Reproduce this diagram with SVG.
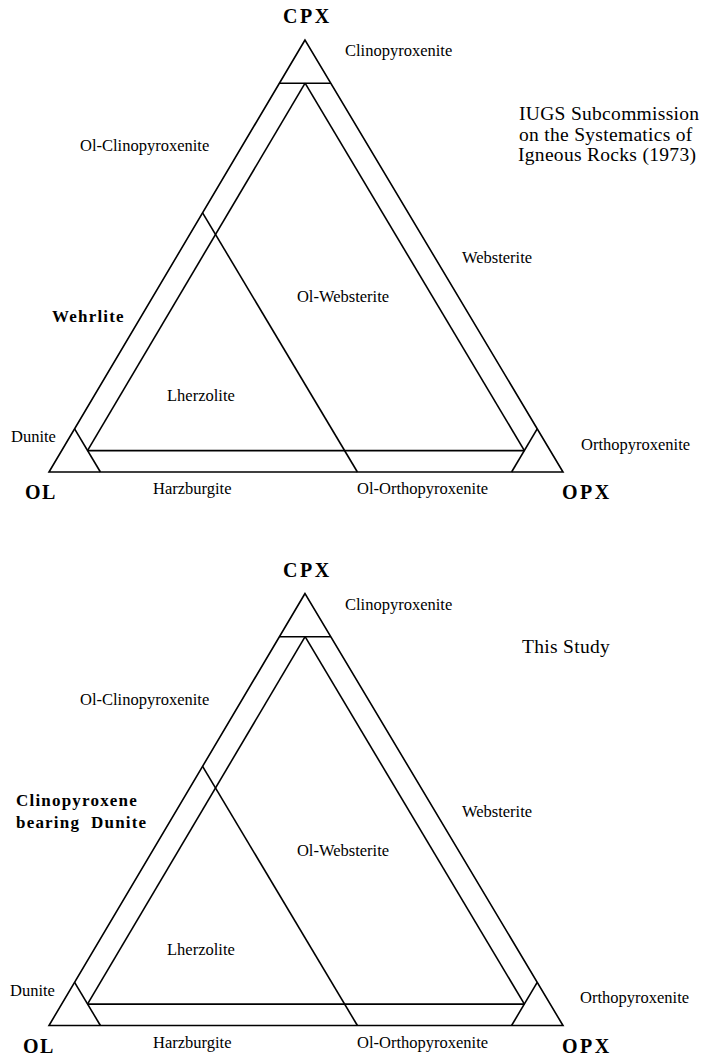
<svg xmlns="http://www.w3.org/2000/svg" xmlns:xlink="http://www.w3.org/1999/xlink" width="712" height="1058" viewBox="0 0 712 1058">
<style>
.ln{fill:none;stroke:#000;stroke-width:1.6;stroke-linejoin:miter}
.lb{font-family:"Liberation Serif","Times New Roman",serif;font-size:16.5px;fill:#000}
.ap{font-family:"Liberation Serif","Times New Roman",serif;font-size:20px;font-weight:bold;letter-spacing:2.5px;fill:#000}
.bl{font-family:"Liberation Serif","Times New Roman",serif;font-size:17px;font-weight:bold;letter-spacing:1.2px;fill:#000}
.tt{font-family:"Liberation Serif","Times New Roman",serif;font-size:19.5px;letter-spacing:0.3px;fill:#000}
</style>
<defs>
<g id="tri">
<polygon class="ln" points="305,40 49,472 563,472"/>
<line class="ln" x1="279.4" y1="83.2" x2="330.8" y2="83.2"/>
<line class="ln" x1="74.6" y1="428.8" x2="100.4" y2="472"/>
<line class="ln" x1="511.6" y1="472" x2="537.2" y2="428.8"/>
<line class="ln" x1="87.5" y1="450.6" x2="524.4" y2="450.6"/>
<line class="ln" x1="305.1" y1="83.2" x2="87.5" y2="450.6"/>
<line class="ln" x1="305.1" y1="83.2" x2="524.4" y2="450.6"/>
<line class="ln" x1="202.6" y1="212.8" x2="357.4" y2="472"/>
</g>
</defs>
<g id="diagram-iugs">
<g id="connectors-iugs"><use xlink:href="#tri"/></g>
<g id="apex-cpx"><text class="ap" x="283" y="23">CPX</text></g>
<g id="apex-ol"><text class="ap" x="25" y="499" style="letter-spacing:1.5px">OL</text></g>
<g id="apex-opx"><text class="ap" x="562" y="499">OPX</text></g>
<g id="lbl-clinopyroxenite"><text class="lb" x="345" y="56">Clinopyroxenite</text></g>
<g id="lbl-title"><text class="tt" x="519" y="120">IUGS Subcommission</text><text class="tt" x="519" y="141">on the Systematics of</text><text class="tt" x="518" y="161">Igneous Rocks (1973)</text></g>
<g id="lbl-olcpx"><text class="lb" x="80" y="151">Ol-Clinopyroxenite</text></g>
<g id="lbl-websterite"><text class="lb" x="497" y="263" text-anchor="middle">Websterite</text></g>
<g id="lbl-wehrlite"><text class="bl" x="52" y="322">Wehrlite</text></g>
<g id="lbl-olweb"><text class="lb" x="343" y="302" text-anchor="middle">Ol-Websterite</text></g>
<g id="lbl-lherzolite"><text class="lb" x="167" y="401">Lherzolite</text></g>
<g id="lbl-dunite"><text class="lb" x="11" y="442">Dunite</text></g>
<g id="lbl-opxite"><text class="lb" x="581" y="450">Orthopyroxenite</text></g>
<g id="lbl-harz"><text class="lb" x="153" y="494">Harzburgite</text></g>
<g id="lbl-olopx"><text class="lb" x="357" y="494">Ol-Orthopyroxenite</text></g>
</g>
<g id="diagram-this-study" transform="translate(0,553.5)">
<g id="connectors-study"><use xlink:href="#tri"/></g>
<g id="apex-cpx-2"><text class="ap" x="283" y="23">CPX</text></g>
<g id="apex-ol-2"><text class="ap" x="23" y="499" style="letter-spacing:1.5px">OL</text></g>
<g id="apex-opx-2"><text class="ap" x="562" y="499">OPX</text></g>
<g id="lbl-clinopyroxenite-2"><text class="lb" x="345" y="56">Clinopyroxenite</text></g>
<g id="lbl-study"><text class="tt" x="522" y="99">This Study</text></g>
<g id="lbl-olcpx-2"><text class="lb" x="80" y="151">Ol-Clinopyroxenite</text></g>
<g id="lbl-websterite-2"><text class="lb" x="497" y="263" text-anchor="middle">Websterite</text></g>
<g id="lbl-cpxdunite"><text class="bl" x="16" y="252.5">Clinopyroxene</text><text class="bl" x="16" y="274.5" xml:space="preserve">bearing  Dunite</text></g>
<g id="lbl-olweb-2"><text class="lb" x="343" y="302" text-anchor="middle">Ol-Websterite</text></g>
<g id="lbl-lherzolite-2"><text class="lb" x="167" y="401">Lherzolite</text></g>
<g id="lbl-dunite-2"><text class="lb" x="10" y="442">Dunite</text></g>
<g id="lbl-opxite-2"><text class="lb" x="580" y="449">Orthopyroxenite</text></g>
<g id="lbl-harz-2"><text class="lb" x="153" y="494">Harzburgite</text></g>
<g id="lbl-olopx-2"><text class="lb" x="357" y="494">Ol-Orthopyroxenite</text></g>
</g>
</svg>
